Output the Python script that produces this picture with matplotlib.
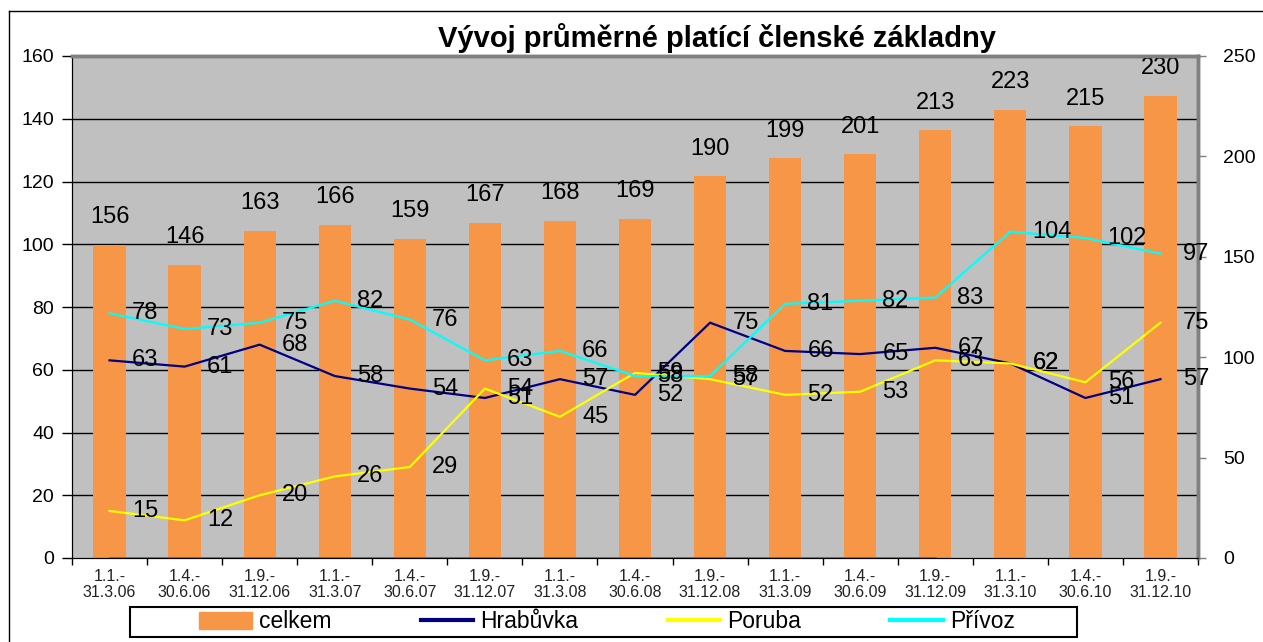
"""
Vývoj průměrné platící členské základny
sloupce = celkem (pravá osa), čáry = pobočky (levá osa)
"""

import numpy as np
import matplotlib.pyplot as plt
from matplotlib import font_manager
from matplotlib.lines import Line2D
from matplotlib.patches import Rectangle

obdobi = ['1.1.-\n31.3.06', '1.4.-\n30.6.06', '1.9.-\n31.12.06',
          '1.1.-\n31.3.07', '1.4.-\n30.6.07', '1.9.-\n31.12.07',
          '1.1.-\n31.3.08', '1.4.-\n30.6.08', '1.9.-\n31.12.08',
          '1.1.-\n31.3.09', '1.4.-\n30.6.09', '1.9.-\n31.12.09',
          '1.1.-\n31.3.10', '1.4.-\n30.6.10', '1.9.-\n31.12.10']

celkem = [156, 146, 163, 166, 159, 167, 168, 169, 190, 199, 201, 213, 223, 215, 230]
hrabuvka = [63, 61, 68, 58, 54, 51, 57, 52, 75, 66, 65, 67, 62, 51, 57]
poruba = [15, 12, 20, 26, 29, 54, 45, 59, 57, 52, 53, 63, 62, 56, 75]
privoz = [78, 73, 75, 82, 76, 63, 66, 58, 58, 81, 82, 83, 104, 102, 97]
ostatni = [0, 0, 0, 0, 0, 0, 0, 0, 0, 0, 0, 0]

levy_ticks = [0, 20, 40, 60, 80, 100, 120, 140, 160]
pravy_ticks = [0, 50, 100, 150, 200, 250]


def font_ok(name):
    try:
        font_manager.findfont(name, fallback_to_default=False)
        return True
    except ValueError:
        return False


def main():
    plt.rcParams['font.family'] = ['Liberation Sans', 'DejaVu Sans']
    titul_font = 'Liberation Sans Narrow' if font_ok('Liberation Sans Narrow') else 'Liberation Sans'

    fig = plt.figure(figsize=(12.63, 6.42), dpi=100)
    W, H = 1263, 642
    ax2 = fig.add_axes([72 / W, 1 - 558 / H, (1198 - 72) / W, (558 - 56) / H])
    ax = ax2.twinx()
    ax2.yaxis.tick_right()
    ax.yaxis.tick_left()
    ax.yaxis.set_label_position('left')
    ax.set_zorder(ax2.get_zorder() + 1)
    ax.patch.set_visible(False)

    x = np.arange(len(obdobi))

    # sloupce celkem - prava osa
    ax2.set_facecolor('#C0C0C0')
    ax2.bar(x, celkem, width=0.43, color='#F79646', zorder=2)
    ax2.set_ylim(0, 250)
    for v in levy_ticks[1:-1]:
        ax2.axhline(v * 250 / 160, color='black', lw=1, zorder=1)
    for i, v in enumerate(celkem):
        ax2.annotate(str(v), (i, v), xytext=(0, 20), textcoords='offset points',
                     ha='center', va='center', fontsize=17, zorder=5)

    # cary pobocek - leva osa
    ax.plot(np.arange(len(ostatni)), ostatni, color='#FF00FF', lw=2, zorder=3)
    ax.plot(x, hrabuvka, color='#000080', lw=1.6, zorder=3)
    ax.plot(x, poruba, color='#FFFF00', lw=1.6, zorder=3)
    ax.plot(x, privoz, color='#00FFFF', lw=1.6, zorder=3)
    for serie in (hrabuvka, poruba, privoz):
        for i, v in enumerate(serie):
            ax.annotate(str(v), (i, v), xytext=(16, 0), textcoords='offset points',
                        ha='left', va='center', fontsize=17, zorder=6)

    ax.set_ylim(0, 160)
    ax.set_xlim(-0.5, len(obdobi) - 0.5)
    ax.set_yticks(levy_ticks)
    ax.tick_params(axis='y', labelsize=14, length=7, width=1, direction='out', pad=6)
    ax2.set_yticks(pravy_ticks)
    ax2.tick_params(axis='y', labelsize=14, length=6, width=1, color='#808080',
                    direction='out', pad=12)

    ax2.set_xticks(x)
    ax2.set_xticklabels(obdobi, fontsize=11.5, color='#222222', linespacing=1.1)
    ax2.set_xticks(np.arange(-0.5, len(obdobi)), minor=True)
    ax2.tick_params(axis='x', which='major', length=0, pad=8)
    ax2.tick_params(axis='x', which='minor', length=5, width=1)
    ax.tick_params(axis='x', which='both', bottom=False, labelbottom=False)

    for a in (ax, ax2):
        a.spines['top'].set_color('#808080')
        a.spines['top'].set_linewidth(2.5)
        a.spines['right'].set_color('#808080')
        a.spines['right'].set_linewidth(2.5)
        a.spines['left'].set_color('black')
        a.spines['bottom'].set_color('black')

    fig.text(717 / W, 1 - 47 / H, 'Vývoj průměrné platící členské základny',
             ha='center', va='baseline', fontsize=21, fontweight='bold',
             family=[titul_font, 'DejaVu Sans'])

    # vnejsi ramecek grafu
    fig.add_artist(Line2D([9 / W, 9 / W], [0, 1 - 11 / H], transform=fig.transFigure,
                          color='black', lw=1))
    fig.add_artist(Line2D([9 / W, 1], [1 - 11 / H, 1 - 11 / H], transform=fig.transFigure,
                          color='black', lw=1))

    # legenda
    fig.add_artist(Rectangle((130 / W, 1 - 637 / H), (1077 - 130) / W, 30 / H,
                             transform=fig.transFigure, fill=False, ec='black', lw=1.5))
    handles = [Rectangle((0, 0), 1, 1, color='#F79646'),
               Line2D([], [], color='#000080', lw=3),
               Line2D([], [], color='#FFFF00', lw=3),
               Line2D([], [], color='#00FFFF', lw=3)]
    fig.legend(handles, ['celkem', 'Hrabůvka', 'Poruba', 'Přívoz'], ncol=4,
               loc='center', bbox_to_anchor=(607 / W, 1 - 622 / H), frameon=False,
               fontsize=16.5, handlelength=2.3, handletextpad=0.3, columnspacing=3.9,
               handleheight=0.8)

    fig.savefig('out.png', dpi=100)
    plt.close(fig)


if __name__ == "__main__":
    main()
